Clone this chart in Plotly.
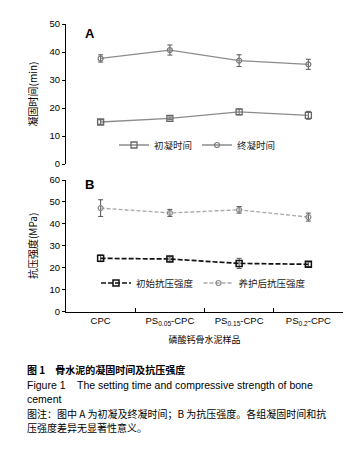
import plotly.graph_objects as go

categories = ["CPC", "PS0.05-CPC", "PS0.15-CPC", "PS0.2-CPC"]
tick_labels = ["CPC", "PS<sub>0.05</sub>-CPC", "PS<sub>0.15</sub>-CPC", "PS<sub>0.2</sub>-CPC"]

initial_set = [15.0, 16.3, 18.6, 17.4]
initial_set_err = [0.8, 0.5, 1.0, 1.4]
final_set = [37.7, 40.7, 36.9, 35.6]
final_set_err = [1.3, 1.8, 2.1, 1.8]

initial_strength = [24.3, 24.0, 22.0, 21.6]
initial_strength_err = [1.5, 1.0, 2.3, 1.0]
cured_strength = [47.2, 45.0, 46.4, 43.1]
cured_strength_err = [3.8, 1.6, 1.5, 1.8]

FONT = "Liberation Sans, Arial, Noto Sans CJK SC, sans-serif"
CJK = "Noto Sans CJK SC, Liberation Sans, sans-serif"
GRAY = "#8c8c8c"
LGRAY = "#a8a8a8"

# the page body adds an 8px margin; the figure is sized so it fits the 361x454 window
OFF = 8
W, H = 353, 446


def px(x):
    return (x - OFF) / W


def py(y):
    return 1 - (y - OFF) / H


fig = go.Figure()

fig.add_trace(go.Scatter(
    x=categories, y=initial_set, name="初凝时间", mode="lines+markers",
    line=dict(color=GRAY, width=1.3),
    marker=dict(symbol="square-open", size=6, color="#666", line=dict(width=1.3)),
    error_y=dict(type="data", array=initial_set_err, color="#555", thickness=1, width=2.5),
    xaxis="x", yaxis="y", legend="legend"))
fig.add_trace(go.Scatter(
    x=categories, y=final_set, name="终凝时间", mode="lines+markers",
    line=dict(color=GRAY, width=1.3),
    marker=dict(symbol="circle-open", size=5, color="#777", line=dict(width=1.2)),
    error_y=dict(type="data", array=final_set_err, color="#555", thickness=1, width=2.5),
    xaxis="x", yaxis="y", legend="legend"))

fig.add_trace(go.Scatter(
    x=categories, y=initial_strength, name="初始抗压强度", mode="lines+markers",
    line=dict(color="#111", width=1.7, dash="5px,2px"),
    marker=dict(symbol="square-open", size=6, color="#111", line=dict(width=1.5)),
    error_y=dict(type="data", array=initial_strength_err, color="#555", thickness=1, width=2.5),
    xaxis="x2", yaxis="y2", legend="legend2"))
fig.add_trace(go.Scatter(
    x=categories, y=cured_strength, name="养护后抗压强度", mode="lines+markers",
    line=dict(color=LGRAY, width=1.3, dash="4px,2px"),
    marker=dict(symbol="circle-open", size=5, color="#888", line=dict(width=1.2)),
    error_y=dict(type="data", array=cured_strength_err, color="#555", thickness=1, width=2.5),
    xaxis="x2", yaxis="y2", legend="legend2"))

xdom = [px(66), px(343)]
ydom_top = [py(164), py(24)]
ydom_bot = [py(311.7), py(180)]

axis_common = dict(showgrid=False, zeroline=False, showline=True, linecolor="#000", linewidth=1,
                   automargin=False, tickfont=dict(family=FONT, size=9.5, color="#000"))


def leg(x, y):
    return dict(orientation="h", x=px(x), y=py(y), xanchor="left", yanchor="middle",
                font=dict(family=CJK, size=9.5, color="#222"), bgcolor="rgba(0,0,0,0)",
                itemwidth=30, tracegroupgap=0, traceorder="normal")


fig.update_layout(
    width=W, height=H,
    margin=dict(l=0, r=0, t=0, b=0),
    paper_bgcolor="white", plot_bgcolor="white",
    font=dict(family=FONT, color="#000"),
    showlegend=True,
    xaxis=dict(domain=xdom, anchor="y", type="category", range=[-0.5, 3.5], automargin=False,
               showline=False, showticklabels=False, ticks="", showgrid=False, zeroline=False),
    yaxis=dict(domain=ydom_top, anchor="x", range=[0, 50], dtick=10, ticks="outside", ticklen=3,
               tickcolor="#000", **axis_common,
               title=dict(text="凝固时间(min)", font=dict(family=CJK, size=10), standoff=10)),
    xaxis2=dict(domain=xdom, anchor="y2", type="category", range=[-0.5, 3.5],
                tickmode="array", tickvals=categories, ticktext=tick_labels,
                tickson="boundaries", ticks="inside", ticklen=4, tickcolor="#000", **axis_common,
                title=dict(text="磷酸钙骨水泥样品", font=dict(family=CJK, size=9), standoff=10)),
    yaxis2=dict(domain=ydom_bot, anchor="x2", range=[0, 60], dtick=10, ticks="outside", ticklen=3,
                tickcolor="#000", **axis_common,
                title=dict(text="抗压强度(MPa)", font=dict(family=CJK, size=10), standoff=10)),
    legend=leg(114, 145),
    legend2=leg(96, 283),
)

annotations = [
    dict(text="<b>A</b>", x=px(84), y=py(33), font=dict(family=FONT, size=13)),
    dict(text="<b>B</b>", x=px(84), y=py(185), font=dict(family=FONT, size=13)),
    dict(text="<b>图 1　骨水泥的凝固时间及抗压强度</b>", x=px(26), y=py(369), font=dict(family=CJK, size=10)),
    dict(text="Figure 1    The setting time and compressive strength of bone", x=px(26), y=py(385),
         font=dict(family=FONT, size=10.5)),
    dict(text="cement", x=px(26), y=py(399), font=dict(family=FONT, size=10.5)),
    dict(text="图注：图中 A 为初凝及终凝时间；B 为抗压强度。各组凝固时间和抗", x=px(26), y=py(413),
         font=dict(family=CJK, size=10)),
    dict(text="压强度差异无显著性意义。", x=px(26), y=py(427), font=dict(family=CJK, size=10)),
]
for a in annotations:
    fig.add_annotation(xref="paper", yref="paper", showarrow=False, xanchor="left", yanchor="middle",
                       borderpad=0, **a)

fig.write_html("out.html")
